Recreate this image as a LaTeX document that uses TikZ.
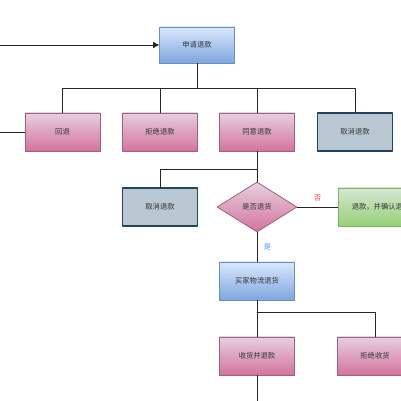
\documentclass[tikz,border=0pt]{standalone}
\usepackage{fontspec}
\newfontfamily\cjk{Noto Sans CJK SC}
\usetikzlibrary{shapes.geometric,arrows.meta}
\definecolor{bluetop}{HTML}{DAE8FC}
\definecolor{bluebot}{HTML}{7EA6E0}
\definecolor{bluedraw}{HTML}{6C8EBF}
\definecolor{pinktop}{HTML}{E6D0DE}
\definecolor{pinkbot}{HTML}{D5739D}
\definecolor{pinkdraw}{HTML}{996185}
\definecolor{grayfill}{HTML}{BAC8D3}
\definecolor{graydraw}{HTML}{23445D}
\definecolor{greentop}{HTML}{D5E8D4}
\definecolor{greenbot}{HTML}{97D077}
\definecolor{greendraw}{HTML}{82B366}
\definecolor{notext}{HTML}{FF3333}
\definecolor{yestext}{HTML}{3399FF}
\begin{document}
\begin{tikzpicture}[x=1pt,y=1pt,line cap=round,line join=round,
  box/.style={rectangle,minimum width=75pt,minimum height=38pt,inner sep=1pt,
    font=\cjk\fontsize{7.3}{9}\selectfont,text=black!80,line width=0.8pt},
  bluebox/.style={box,top color=bluetop,bottom color=bluebot,draw=bluedraw},
  pinkbox/.style={box,top color=pinktop,bottom color=pinkbot,draw=pinkdraw},
  graybox/.style={box,fill=grayfill,draw=graydraw,line width=1.1pt},
  greenbox/.style={box,top color=greentop,bottom color=greenbot,draw=greendraw},
  decide/.style={diamond,minimum width=80pt,minimum height=50pt,inner sep=0pt,
    font=\cjk\fontsize{7.3}{9}\selectfont,text=black!80,line width=0.8pt,
    top color=pinktop,bottom color=pinkbot,draw=pinkdraw},
  link/.style={line width=0.9pt,draw=black!85},
  tag/.style={font=\cjk\fontsize{7}{8}\selectfont}]
  \useasboundingbox (0,0) rectangle (400,401);
  % nodes
  \node[bluebox,minimum height=36pt] (req) at (197,356) {申请退款};
  \node[pinkbox] (back) at (62.5,269) {回退};
  \node[pinkbox] (reject) at (160,269) {拒绝退款};
  \node[pinkbox] (agree) at (257,269) {同意退款};
  \node[graybox] (cancelA) at (355,269) {取消退款};
  \node[graybox] (cancelB) at (160,194) {取消退款};
  \node[decide] (ask) at (257,194) {是否退货};
  \node[greenbox,minimum width=86pt] (refund) at (381,194) {退款，并确认退货};
  \node[bluebox] (ship) at (257,120) {买家物流退货};
  \node[pinkbox] (recv) at (257,45) {收货并退款};
  \node[pinkbox] (refuse) at (375,45) {拒绝收货};
  % bends and loose ends
  \coordinate (busA) at (197,313);
  \coordinate (busB) at (257,232);
  \coordinate (busC) at (257,89);
  \coordinate (inA) at (0,356);
  \coordinate (inB) at (0,269);
  \coordinate (outA) at (257,0);
  % connectors
  \draw[link,-{Triangle[length=6pt,width=6pt]}] (inA) -- (req.west);
  \draw[link] (inB) -- (back.west);
  \draw[link] (req.south) -- (busA);
  \foreach \n in {back,reject,agree,cancelA}
    \draw[link] (\n.north) |- (busA);
  \draw[link] (agree.south) -- (ask.north);
  \draw[link] (cancelB.north) |- (busB);
  \draw[link] (ask.east) -- node[tag,text=notext,above=2pt,pos=0.5] (no) {否} (refund.west);
  \draw[link] (ask.south) -- node[tag,text=yestext,right=3pt,pos=0.5] (yes) {是} (ship.north);
  \draw[link] (ship.south) -- (recv.north);
  \draw[link] (refuse.north) |- (busC);
  \draw[link] (recv.south) -- (outA);
\end{tikzpicture}
\end{document}
